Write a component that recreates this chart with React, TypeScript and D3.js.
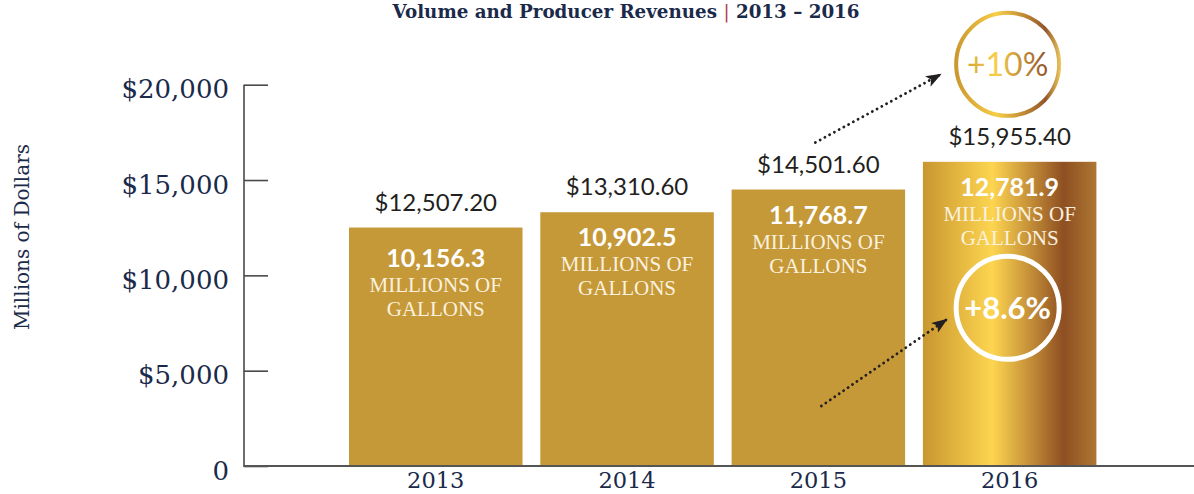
import React, { useEffect, useRef } from "react";
import * as d3 from "d3";

// ---- data ----
const years = ["2013", "2014", "2015", "2016"];
const revenues = [12507.2, 13310.6, 14501.6, 15955.4];
const volumes = [10156.3, 10902.5, 11768.7, 12781.9];
const yTicks = [0, 5000, 10000, 15000, 20000];
const revenueGrowth = "+10%";
const volumeGrowth = "+8.6%";
const titleMain = "Volume and Producer Revenues ";
const titleYears = " 2013 – 2016";
const yTitle = "Millions of Dollars";
const volumeUnitLines = ["MILLIONS OF", "GALLONS"];

const W = 1194;
const H = 494;
const NAVY = "#1B2A4A";
const INK = "#231F20";
const BAR = "#C59838";

const fmtRevenue = d3.format("$,.2f");
const fmtVolume = d3.format(",.1f");
const fmtTick = (v: number) => (v === 0 ? "0" : d3.format("$,")(v));

export default function App() {
  const yAxisRef = useRef<SVGGElement>(null);

  const x = d3
    .scaleBand<string>()
    .domain(years)
    .range([349, 349 + 191.3 * (years.length - 0.093)])
    .paddingInner(0.093)
    .paddingOuter(0);
  const y = d3.scaleLinear().domain([0, 20000]).range([466, 84.7]);
  const bw = x.bandwidth();
  const axisX = 244;

  useEffect(() => {
    if (!yAxisRef.current) return;
    const g = d3.select(yAxisRef.current);
    g.selectAll("*").remove();
    g.call(
      d3
        .axisLeft(y)
        .tickValues(yTicks)
        .tickSize(-24)
        .tickPadding(15)
        .tickFormat((d) => fmtTick(d as number))
    );
    g.select(".domain").remove();
    g.selectAll(".tick line").attr("stroke", "#4a4a4a").attr("stroke-width", 1.6);
    g.selectAll(".tick text")
      .attr("fill", NAVY)
      .attr("font-family", "'DejaVu Serif', serif")
      .attr("font-size", 26)
      .attr("dy", "0.5em");
  }, []);

  const last = years.length - 1;
  const prev = years.length - 2;
  const lastCx = (x(years[last]) as number) + bw / 2 - 2;
  const prevCx = (x(years[prev]) as number) + bw / 2;
  const topCy = y(revenues[last]) - 97.5;
  const lowCy = y(revenues[last]) + 146;

  const upperStart = [prevCx - 3, y(revenues[prev]) - 47];
  const upperTip = [lastCx - 66, topCy + 9.5];
  const lowerStart = [prevCx + 3, y(0) - 60];
  const lowerTip = [lastCx - 60, lowCy + 11];

  return (
    <svg
      width={W}
      height={H}
      style={{ position: "absolute", left: 0, top: 0, background: "#fff" }}
    >
      <defs>
        <linearGradient id="goldBar" x1="0" x2="1" y1="0" y2="0">
          <stop offset="0" stopColor="#C9962F" />
          <stop offset="0.4" stopColor="#FDD550" />
          <stop offset="0.62" stopColor="#C48E38" />
          <stop offset="0.81" stopColor="#8E4F22" />
          <stop offset="1" stopColor="#AD7733" />
        </linearGradient>
        <linearGradient
          id="goldRing"
          gradientUnits="userSpaceOnUse"
          x1={lastCx - 54}
          x2={lastCx + 54}
          y1={topCy}
          y2={topCy}
        >
          <stop offset="0" stopColor="#C9952E" />
          <stop offset="0.4" stopColor="#F7CE48" />
          <stop offset="0.65" stopColor="#C08A35" />
          <stop offset="0.85" stopColor="#93552A" />
          <stop offset="1" stopColor="#F2D060" />
        </linearGradient>
        <marker
          id="arrowHead"
          markerUnits="userSpaceOnUse"
          markerWidth={18}
          markerHeight={14}
          refX={16}
          refY={6}
          orient="auto"
        >
          <path d="M0,0 L16,6 L0,12 L4,6 Z" fill={INK} />
        </marker>
      </defs>

      {/* title */}
      <text
        x={626}
        y={17.5}
        textAnchor="middle"
        fontFamily="'DejaVu Serif', serif"
        fontWeight="bold"
        fontSize={18.3}
        fill={NAVY}
      >
        <tspan>{titleMain}</tspan>
        <tspan fill="#B03A52" fontWeight="normal">|</tspan>
        <tspan>{titleYears}</tspan>
      </text>

      {/* y title */}
      <text
        transform={`translate(29,237) rotate(-90)`}
        textAnchor="middle"
        fontFamily="'DejaVu Serif', serif"
        fontSize={20}
        fill={NAVY}
      >
        {yTitle}
      </text>

      {/* bars */}
      {years.map((yr, i) => (
        <rect
          key={yr}
          x={x(yr)}
          y={y(revenues[i])}
          width={bw}
          height={y(0) - y(revenues[i])}
          fill={i === last ? "url(#goldBar)" : BAR}
        />
      ))}

      {/* axes */}
      <g ref={yAxisRef} transform={`translate(${axisX},0)`} />
      <line x1={axisX} x2={axisX} y1={y(20000)} y2={y(0) + 1} stroke="#4a4a4a" strokeWidth={1.6} />
      <line x1={axisX} x2={W} y1={y(0)} y2={y(0)} stroke="#555" strokeWidth={2} />

      {/* year labels */}
      {years.map((yr) => (
        <text
          key={yr}
          x={(x(yr) as number) + bw / 2}
          y={y(0) + 22}
          textAnchor="middle"
          fontFamily="'DejaVu Serif', serif"
          fontSize={22.5}
          fill={NAVY}
        >
          {yr}
        </text>
      ))}

      {/* revenue labels */}
      {years.map((yr, i) => (
        <text
          key={yr}
          x={(x(yr) as number) + bw / 2}
          y={y(revenues[i]) - 17}
          textAnchor="middle"
          fontFamily="Lato, sans-serif"
          fontSize={24}
          fill={INK}
        >
          {fmtRevenue(revenues[i])}
        </text>
      ))}

      {/* volume labels inside bars */}
      {years.map((yr, i) => {
        const cx = (x(yr) as number) + bw / 2;
        const top = y(revenues[i]) + (i === 0 ? 39 : 34);
        return (
          <g key={yr}>
            <text
              x={cx}
              y={top}
              textAnchor="middle"
              fontFamily="Lato, sans-serif"
              fontWeight="bold"
              fontSize={25}
              fill="#fff"
            >
              {fmtVolume(volumes[i])}
            </text>
            {volumeUnitLines.map((ln, j) => (
              <text
                key={ln}
                x={cx}
                y={top + 25 + j * 24}
                textAnchor="middle"
                fontFamily="'Liberation Serif', serif"
                fontSize={21}
                fill="#FBF1DE"
              >
                {ln}
              </text>
            ))}
          </g>
        );
      })}

      {/* growth circles */}
      <circle cx={lastCx} cy={topCy} r={51.5} fill="#fff" stroke="url(#goldRing)" strokeWidth={4} />
      <text
        x={lastCx}
        y={topCy + 12}
        textAnchor="middle"
        fontFamily="Lato, sans-serif"
        fontSize={32}
        fill="url(#goldRing)"
      >
        {revenueGrowth}
      </text>
      <circle cx={lastCx} cy={lowCy} r={51.5} fill="none" stroke="#fff" strokeWidth={5} />
      <text
        x={lastCx}
        y={lowCy + 11}
        textAnchor="middle"
        fontFamily="Lato, sans-serif"
        fontWeight="bold"
        fontSize={31}
        fill="#fff"
      >
        {volumeGrowth}
      </text>

      {/* dotted arrows */}
      {[
        [upperStart, upperTip],
        [lowerStart, lowerTip],
      ].map(([s, t], k) => (
        <line
          key={k}
          x1={s[0]}
          y1={s[1]}
          x2={t[0]}
          y2={t[1]}
          stroke={INK}
          strokeWidth={2.8}
          strokeDasharray="0.1 5.3"
          strokeLinecap="round"
          markerEnd="url(#arrowHead)"
        />
      ))}
    </svg>
  );
}
